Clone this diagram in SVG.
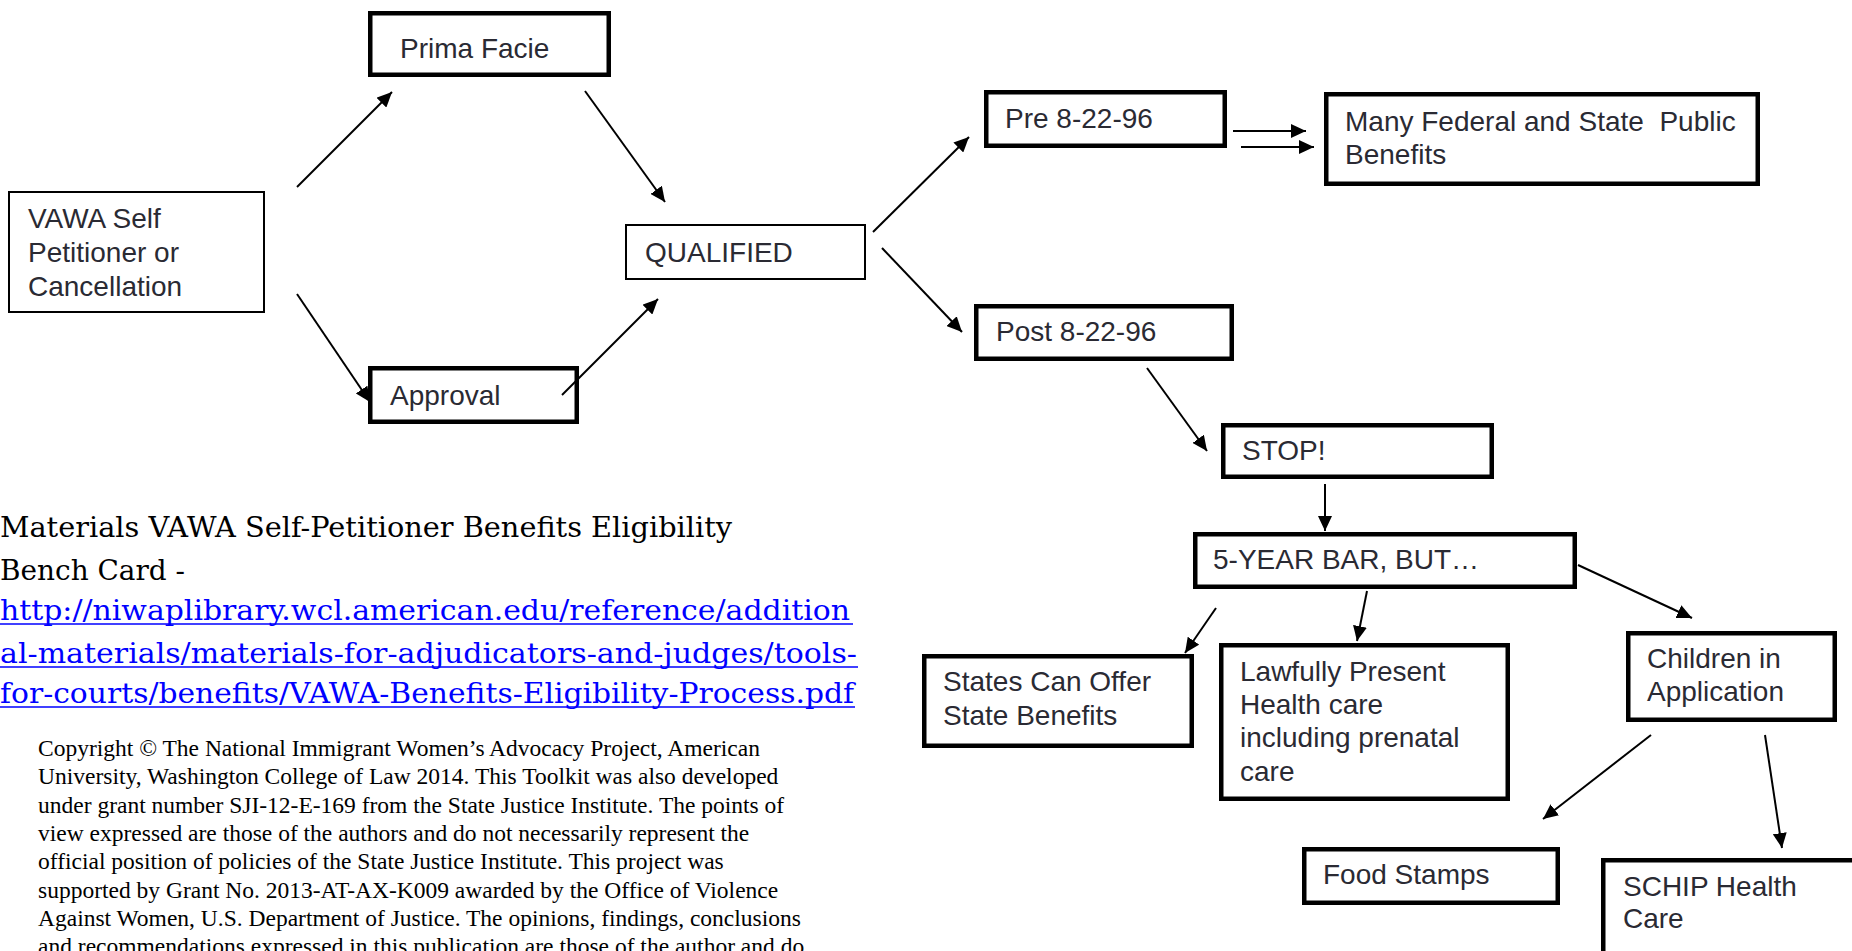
<svg xmlns="http://www.w3.org/2000/svg" width="1852" height="951" viewBox="0 0 1852 951">
<style>
.thin{fill:none;stroke:#000;stroke-width:2}
.thick{fill:none;stroke:#000;stroke-width:4.5}
.lbl{font-family:"Liberation Sans",Arial,sans-serif;font-size:28px;fill:#2a2a33}
.con line{stroke:#000;stroke-width:2;marker-end:url(#ah)}
.head{font-family:"DejaVu Serif","Liberation Serif",serif;font-size:27.5px;fill:#000}
.link{font-family:"DejaVu Serif","Liberation Serif",serif;font-size:27.5px;fill:#0000ff}
.ul{stroke:#0000ff;stroke-width:1.6}
.copy{font-family:"Liberation Serif","Times New Roman",serif;font-size:23.5px;fill:#000}
</style>
<defs>
<marker id="ah" markerUnits="userSpaceOnUse" markerWidth="16" markerHeight="14" refX="15" refY="7" orient="auto">
<path d="M0,0 L15,7 L0,14 z" fill="#000"/>
</marker>
</defs>
<rect width="1852" height="951" fill="#fff"/>

<g id="vawa"><rect class="thin" x="9" y="192" width="255" height="120"/>
<text class="lbl" x="28" y="228">VAWA Self</text><text class="lbl" x="28" y="262">Petitioner or</text><text class="lbl" x="28" y="296">Cancellation</text></g>
<g id="prima"><rect class="thick" x="370.25" y="13.25" width="238.5" height="61.5"/><text class="lbl" x="400" y="58">Prima Facie</text></g>
<g id="approval"><rect class="thick" x="370.25" y="368.25" width="206.5" height="53.5"/><text class="lbl" x="390" y="405">Approval</text></g>
<g id="qualified"><rect class="thin" x="626" y="225" width="239" height="54"/><text class="lbl" x="645" y="262">QUALIFIED</text></g>
<g id="pre"><rect class="thick" x="986.25" y="92.25" width="238.5" height="53.5"/><text class="lbl" x="1005" y="128">Pre 8-22-96</text></g>
<g id="post"><rect class="thick" x="976.25" y="306.25" width="255.5" height="52.5"/><text class="lbl" x="996" y="341">Post 8-22-96</text></g>
<g id="many"><rect class="thick" x="1326.25" y="94.25" width="431.5" height="89.5"/><text class="lbl" x="1345" y="131" style="white-space:pre">Many Federal and State  Public</text><text class="lbl" x="1345" y="164">Benefits</text></g>
<g id="stop"><rect class="thick" x="1223.25" y="425.25" width="268.5" height="51.5"/><text class="lbl" x="1242" y="460">STOP!</text></g>
<g id="bar"><rect class="thick" x="1195.25" y="534.25" width="379.5" height="52.5"/><text class="lbl" x="1213" y="569">5-YEAR BAR, BUT…</text></g>
<g id="states"><rect class="thick" x="924.25" y="656.25" width="267.5" height="89.5"/><text class="lbl" x="943" y="691">States Can Offer</text><text class="lbl" x="943" y="725">State Benefits</text></g>
<g id="lawful"><rect class="thick" x="1221.25" y="645.25" width="286.5" height="153.5"/><text class="lbl" x="1240" y="681">Lawfully Present</text><text class="lbl" x="1240" y="714">Health care</text><text class="lbl" x="1240" y="747">including prenatal</text><text class="lbl" x="1240" y="781">care</text></g>
<g id="children"><rect class="thick" x="1628.25" y="633.25" width="206.5" height="86.5"/><text class="lbl" x="1647" y="668">Children in</text><text class="lbl" x="1647" y="701">Application</text></g>
<g id="food"><rect class="thick" x="1304.25" y="849.25" width="253.5" height="53.5"/><text class="lbl" x="1323" y="884">Food Stamps</text></g>
<g id="schip"><rect class="thick" x="1603.25" y="860.25" width="300" height="120"/><text class="lbl" x="1623" y="896">SCHIP Health</text><text class="lbl" x="1623" y="928">Care</text></g>

<g id="connectors" class="con">
<line x1="297" y1="187" x2="392" y2="92"/>
<line x1="585" y1="91" x2="665" y2="202"/>
<line x1="297" y1="294" x2="370" y2="402"/>
<line x1="562" y1="395" x2="658" y2="299"/>
<line x1="873" y1="232" x2="969" y2="137"/>
<line x1="882" y1="248" x2="962" y2="332"/>
<line x1="1147" y1="368" x2="1207" y2="451"/>
<line x1="1325" y1="484" x2="1325" y2="531"/>
<line x1="1216" y1="608" x2="1185" y2="653"/>
<line x1="1367" y1="591" x2="1357" y2="641"/>
<line x1="1578" y1="565" x2="1692" y2="618"/>
<line x1="1651" y1="735" x2="1543" y2="819"/>
<line x1="1765" y1="735" x2="1782" y2="848"/>
<line x1="1233" y1="131" x2="1306" y2="131"/>
<line x1="1241" y1="147" x2="1314" y2="147"/>
</g>

<g id="citation">
<text class="head" x="0" y="537" textLength="732" lengthAdjust="spacingAndGlyphs">Materials VAWA Self-Petitioner Benefits Eligibility</text>
<text class="head" x="0" y="580" textLength="185" lengthAdjust="spacingAndGlyphs">Bench Card -</text>
<text class="link" x="0" y="620" textLength="850" lengthAdjust="spacingAndGlyphs">http://niwaplibrary.wcl.american.edu/reference/addition</text>
<text class="link" x="0" y="663" textLength="857" lengthAdjust="spacingAndGlyphs">al-materials/materials-for-adjudicators-and-judges/tools-</text>
<text class="link" x="0" y="703" textLength="854" lengthAdjust="spacingAndGlyphs">for-courts/benefits/VAWA-Benefits-Eligibility-Process.pdf</text>
<line class="ul" x1="0" y1="624" x2="853" y2="624"/>
<line class="ul" x1="0" y1="667" x2="858" y2="667"/>
<line class="ul" x1="0" y1="707" x2="855" y2="707"/>
</g>

<g id="copyright">
<text class="copy" x="38" y="756">Copyright © The National Immigrant Women’s Advocacy Project, American</text>
<text class="copy" x="38" y="784">University, Washington College of Law 2014. This Toolkit was also developed</text>
<text class="copy" x="38" y="813">under grant number SJI-12-E-169 from the State Justice Institute. The points of</text>
<text class="copy" x="38" y="841">view expressed are those of the authors and do not necessarily represent the</text>
<text class="copy" x="38" y="869">official position of policies of the State Justice Institute. This project was</text>
<text class="copy" x="38" y="898">supported by Grant No. 2013-AT-AX-K009 awarded by the Office of Violence</text>
<text class="copy" x="38" y="926">Against Women, U.S. Department of Justice. The opinions, findings, conclusions</text>
<text class="copy" x="38" y="954">and recommendations expressed in this publication are those of the author and do</text>
</g>
</svg>
